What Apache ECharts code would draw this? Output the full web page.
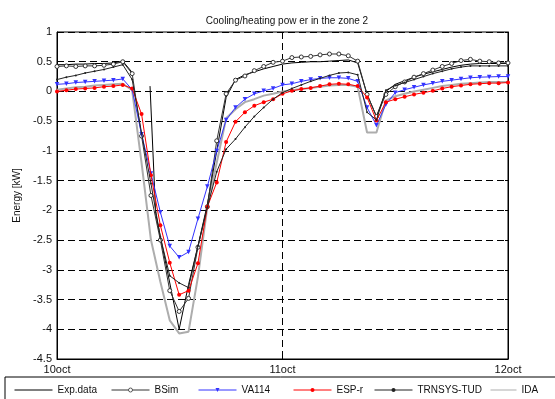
<!DOCTYPE html>
<html><head><meta charset="utf-8">
<script src="https://cdn.jsdelivr.net/npm/echarts@6/dist/echarts.min.js"></script>
<style>html,body{margin:0;padding:0;background:#fff}#c{width:555px;height:399px}</style>
</head><body><div id="c"></div>
<script>
const titleText = "Cooling/heating pow er in the zone 2";
const yName = "Energy [kW]";
const xTickLabels = ["10oct", "11oct", "12oct"];
const xTickHours = [0, 24, 48];
const hours = [0,1,2,3,4,5,6,7,8,9,10,11,12,13,14,15,16,17,18,19,20,21,22,23,24,25,26,27,28,29,30,31,32,33,34,35,36,37,38,39,40,41,42,43,44,45,46,47,48];

const expHours = [0,1,2,3,4,5,6,7,8,9,9.9,10.5,13,14,15,16,17,18,19,20,21,22,23,24,25,26,27,28,29,30,31,32,33,34,35,36,37,38,39,40,41,42,43,44,45,46,47,48];
const expData = [0.45,0.45,0.46,0.46,0.47,0.47,0.48,0.51,0.32,null,0.09,-2.05,-4.0,-3.25,-2.6,-1.9,-1.0,-0.1,0.2,0.28,0.33,0.38,0.42,0.46,0.48,0.49,0.5,0.5,0.51,0.52,0.53,0.48,-0.05,-0.42,0.0,0.12,0.18,0.24,0.29,0.33,0.37,0.41,0.44,0.46,0.47,0.47,0.47,0.47];

const bsim = [0.42,0.43,0.42,0.43,0.43,0.44,0.46,0.5,0.3,-0.75,-1.75,-2.5,-3.35,-3.7,-3.48,-2.62,-1.94,-0.83,-0.04,0.19,0.26,0.35,0.42,0.49,0.51,0.57,0.58,0.59,0.615,0.63,0.63,0.6,0.51,-0.05,-0.42,-0.05,0.08,0.16,0.24,0.3,0.36,0.42,0.47,0.52,0.54,0.51,0.5,0.48,0.48];

const va114 = [0.12,0.13,0.15,0.16,0.17,0.18,0.19,0.21,0.03,-0.72,-1.38,-2.03,-2.6,-2.79,-2.7,-2.14,-1.6,-1.0,-0.48,-0.27,-0.13,-0.04,0.01,0.05,0.11,0.13,0.17,0.2,0.22,0.23,0.23,0.22,0.17,-0.27,-0.57,-0.22,-0.02,0.03,0.07,0.11,0.14,0.17,0.19,0.21,0.23,0.24,0.245,0.25,0.25];

const espr = [0.0,0.02,0.04,0.05,0.06,0.08,0.09,0.11,0.05,-0.38,-1.41,-2.25,-2.88,-3.42,-3.35,-2.89,-1.94,-1.53,-0.85,-0.51,-0.35,-0.24,-0.18,-0.13,-0.04,0.01,0.04,0.06,0.09,0.12,0.13,0.12,0.09,-0.1,-0.49,-0.18,-0.13,-0.09,-0.05,-0.02,0.01,0.05,0.08,0.1,0.12,0.13,0.14,0.14,0.15];

const trnsys = [0.2,0.24,0.27,0.31,0.34,0.37,0.41,0.45,0.2,-0.7,-1.55,-2.45,-3.1,-3.22,-3.3,-2.6,-1.95,-1.35,-0.97,-0.8,-0.6,-0.42,-0.27,-0.13,-0.02,0.05,0.11,0.17,0.22,0.27,0.31,0.32,0.28,-0.35,-0.48,0.02,0.1,0.15,0.2,0.25,0.3,0.34,0.38,0.41,0.43,0.43,0.43,0.43,0.43];

const ida = [0.03,0.05,0.07,0.08,0.1,0.11,0.12,0.13,0.02,-1.2,-2.5,-3.2,-3.85,-4.07,-4.04,-3.12,-1.94,-1.2,-0.45,-0.3,-0.18,-0.13,-0.07,-0.04,0.0,0.02,0.04,0.06,0.08,0.1,0.11,0.11,0.08,-0.69,-0.69,-0.15,-0.08,-0.04,0.0,0.03,0.06,0.09,0.11,0.13,0.14,0.15,0.16,0.16,0.16];

const seriesNames = ["Exp.data", "BSim", "VA114", "ESP-r", "TRNSYS-TUD", "IDA"];

function pairs(xs, ys) { return xs.map((x, i) => [x, ys[i]]); }

const FONT = "Liberation Sans, Arial, sans-serif";
const chart = echarts.init(document.getElementById('c'), null, {renderer: 'canvas'});

const legendLefts = [14, 111, 198, 293, 374, 490];
const legendWidths = [38, 38, 38, 38, 38, 26];
const noMarker = {"Exp.data": true, "IDA": true};
const legends = seriesNames.map((n, i) => {
  const l = {
    data: [n], left: legendLefts[i], top: 385, itemWidth: legendWidths[i], itemHeight: 5, itemGap: 5,
    textStyle: {fontFamily: FONT, fontSize: 10, color: '#111'}, selectedMode: false, padding: 0,
    lineStyle: {width: 1}
  };
  if (noMarker[n]) l.itemStyle = {opacity: 0};
  if (n === 'BSim') l.itemStyle = {borderWidth: 0.8};
  return l;
});

const dashed = {show: true, lineStyle: {color: '#000', type: [7, 4], width: 1}};

chart.setOption({
  animation: false,
  backgroundColor: '#fff',
  title: {text: titleText, left: 282, textAlign: 'center', top: 11,
    textStyle: {fontFamily: FONT, fontSize: 10, fontWeight: 'normal', color: '#111'}},
  legend: legends,
  graphic: [{type: 'rect', shape: {x: 5, y: 377, width: 560, height: 40}, style: {fill: 'none', stroke: '#000', lineWidth: 1}, silent: true}],
  grid: {left: 57, right: 47, top: 32, bottom: 40, show: true, borderColor: '#000', borderWidth: 1, backgroundColor: 'transparent'},
  xAxis: [{
    type: 'value', min: 0, max: 48, interval: 24,
    axisLine: {show: true, onZero: false, lineStyle: {color: '#000', width: 1}},
    axisTick: {show: true, inside: true, length: 3, lineStyle: {color: '#000'}},
    axisLabel: {margin: 5, fontFamily: FONT, fontSize: 11, color: '#111', showMinLabel: true, showMaxLabel: true,
      formatter: v => { const k = xTickHours.indexOf(v); return k >= 0 ? xTickLabels[k] : ''; }},
    splitLine: dashed
  }],
  yAxis: [{
    type: 'value', min: -4.5, max: 1, interval: 0.5,
    name: yName, nameLocation: 'middle', nameGap: 32, nameRotate: 90,
    nameTextStyle: {fontFamily: FONT, fontSize: 10, color: '#111'},
    axisLine: {show: true, onZero: false, lineStyle: {color: '#000', width: 1}},
    axisTick: {show: true, inside: true, length: 3, lineStyle: {color: '#000'}},
    axisLabel: {margin: 5, fontFamily: FONT, fontSize: 11, color: '#111'},
    splitLine: dashed
  }, {
    type: 'value', min: -4.5, max: 1, interval: 0.5, position: 'right',
    axisLine: {show: true, onZero: false, lineStyle: {color: '#000'}},
    axisTick: {show: true, inside: true, length: 3, lineStyle: {color: '#000'}},
    axisLabel: {show: false}, splitLine: {show: false}
  }],
  series: [
    {name: 'IDA', type: 'line', data: pairs(hours, ida), showSymbol: false, symbol: 'none', z: 1,
      lineStyle: {color: '#adadad', width: 2}, itemStyle: {color: '#adadad'}},
    {name: 'Exp.data', type: 'line', data: pairs(expHours, expData), symbol: 'none', connectNulls: false, z: 3,
      lineStyle: {color: '#000', width: 1}, itemStyle: {color: '#000'}},
    {name: 'BSim', type: 'line', data: pairs(hours, bsim), symbol: 'circle', symbolSize: 4, z: 4,
      lineStyle: {color: '#333', width: 1}, itemStyle: {color: '#fff', borderColor: '#333', borderWidth: 1}},
    {name: 'VA114', type: 'line', data: pairs(hours, va114), symbol: 'triangle', symbolRotate: 180, symbolSize: 4.5, z: 5,
      lineStyle: {color: '#3333ff', width: 1}, itemStyle: {color: '#3333ff'}},
    {name: 'ESP-r', type: 'line', data: pairs(hours, espr), symbol: 'circle', symbolSize: 4, z: 6,
      lineStyle: {color: '#ff0000', width: 1}, itemStyle: {color: '#ff0000'}},
    {name: 'TRNSYS-TUD', type: 'line', data: pairs(hours, trnsys), symbol: 'circle', symbolSize: 2, z: 7,
      lineStyle: {color: '#222', width: 1}, itemStyle: {color: '#222'}}
  ]
});
</script></body></html>
